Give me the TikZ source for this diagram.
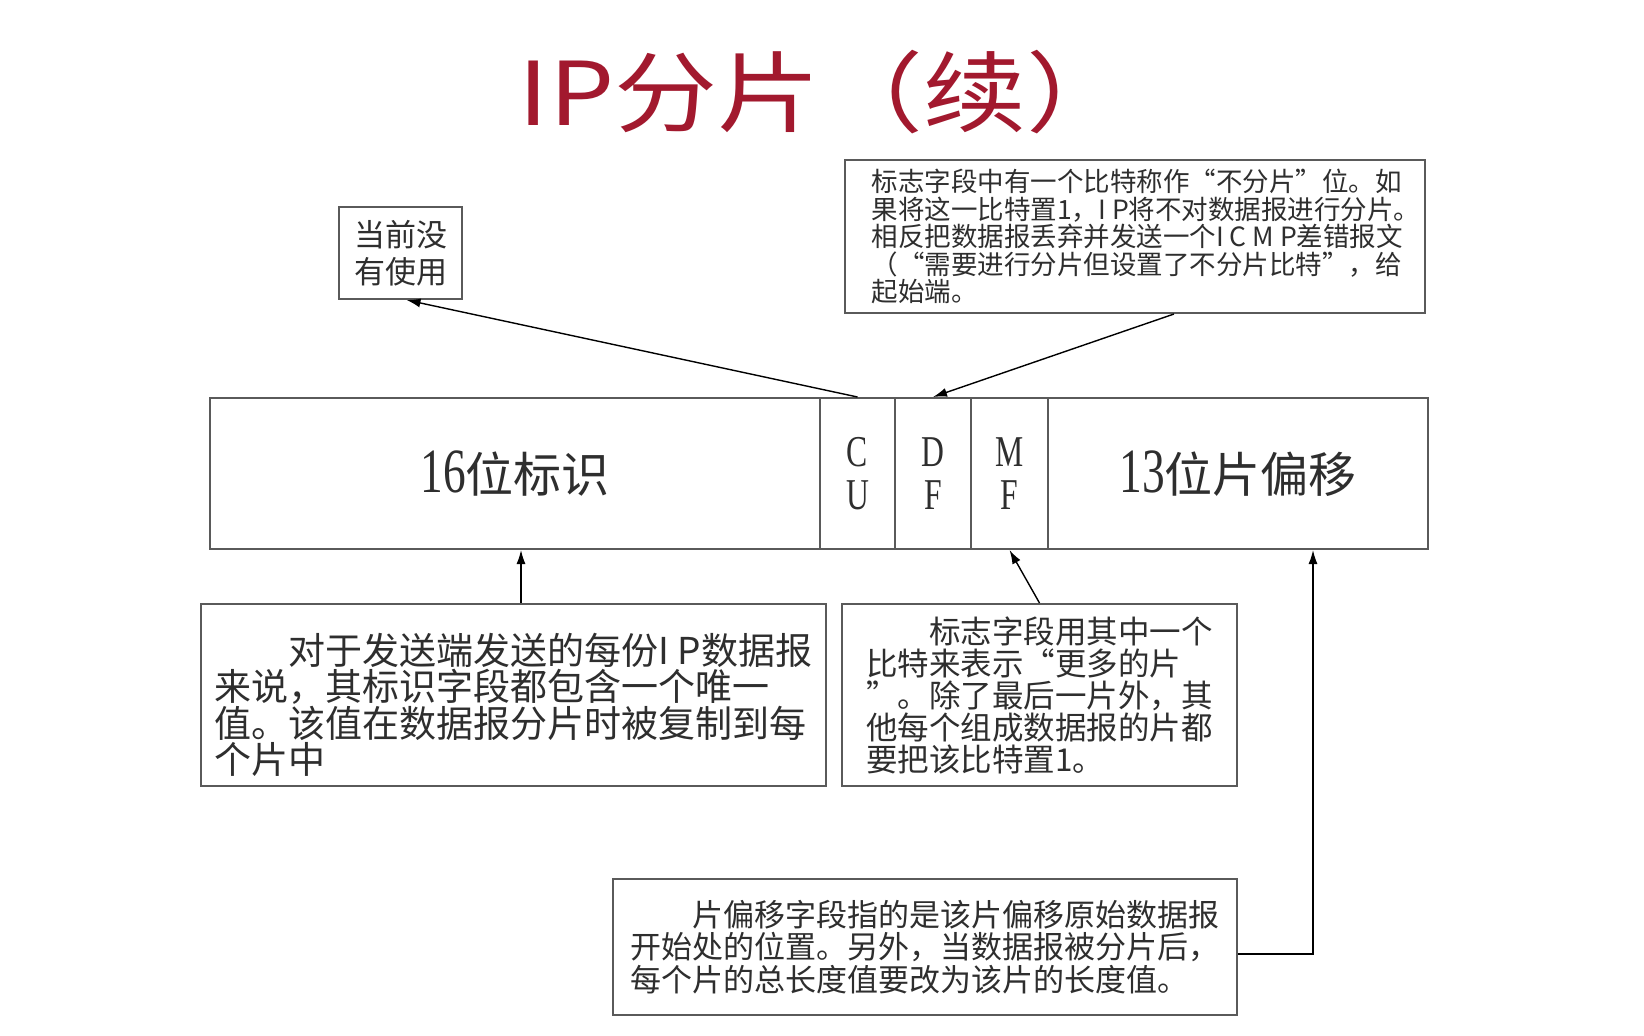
\documentclass[tikz,border=0pt]{standalone}
\usepackage{fontspec}
\usetikzlibrary{arrows.meta,calc}
\newfontfamily\cjk{Noto Sans CJK SC}
\newfontfamily\narrowserif[FakeStretch=0.72]{Liberation Serif}
\definecolor{titlered}{HTML}{A2192E}
\definecolor{frame}{HTML}{5A5A5A}
\definecolor{ink}{HTML}{2E2E2E}
\begin{document}
\begin{tikzpicture}[x=1pt,y=-1pt,
  field/.style={draw=frame,line width=2pt,rectangle,inner sep=0pt,
    minimum height=151pt,text=ink},
  notebox/.style={draw=frame,line width=2pt,rectangle,inner sep=0pt,
    align=left,text=ink},
  notetext/.style={inner sep=0pt,align=left,text=ink},
  arr/.style={draw=black,line width=1.4pt,-{Latex[length=14pt,width=9pt]}}]
\useasboundingbox[fill=white] (0,0) rectangle (1644,1036);

% title
\node[text=titlered,font=\cjk\fontsize{88}{88}\selectfont] (title) at (824,92)
  {\scalebox{1.17}[1]{IP分片（续）}};

% header row: identification, flags, fragment offset
\node[field,minimum width=610pt] (ident) at (515,473.5)
  {{\narrowserif\fontsize{63}{63}\selectfont 16}{\cjk\fontsize{48}{48}\selectfont 位标识}};
\node[field,minimum width=75pt,align=center,font=\narrowserif\fontsize{44}{43}\selectfont] (cu) at (857.5,473.5) {C\\U};
\node[field,minimum width=76pt,align=center,font=\narrowserif\fontsize{44}{43}\selectfont] (df) at (933,473.5) {D\\F};
\node[field,minimum width=77pt,align=center,font=\narrowserif\fontsize{44}{43}\selectfont] (mf) at (1009.5,473.5) {M\\F};
\node[field,minimum width=380pt] (off) at (1238,473.5)
  {{\narrowserif\fontsize{63}{63}\selectfont 13}{\cjk\fontsize{48}{48}\selectfont 位片偏移}};

% explanatory notes
\node[notebox,align=center,minimum width=123pt,minimum height=92pt,
  font=\cjk\fontsize{31}{37}\selectfont] (used) at (400.5,253) {当前没\\有使用};

\node[notebox,minimum width=580pt,minimum height=153pt] (note) at (1135,236.5) {};
\node[notetext,font=\cjk\fontsize{26.5}{27.5}\selectfont,xshift=11pt] (notetext) at (note.center)
  {标志字段中有一个比特称作“不分片”位。如\\
   果将这一比特置1，I P将不对数据报进行分片。\\
   相反把数据报丢弃并发送一个I C M P差错报文\\
   （“需要进行分片但设置了不分片比特”，给\\
   起始端。};

\node[notebox,minimum width=625pt,minimum height=182pt] (d1) at (513.5,695) {};
\node[notetext,font=\cjk\fontsize{37}{36.5}\selectfont,yshift=-10pt] (d1text) at (d1.center)
  {\hspace*{2em}对于发送端发送的每份I P数据报\\
   来说，其标识字段都包含一个唯一\\
   值。该值在数据报分片时被复制到每\\
   个片中};

\node[notebox,minimum width=395pt,minimum height=182pt,
  font=\cjk\fontsize{31.5}{32}\selectfont] (d2) at (1039.5,695)
  {\hspace*{2em}标志字段用其中一个\\
   比特来表示“更多的片\\
   ”。除了最后一片外，其\\
   他每个组成数据报的片都\\
   要把该比特置1。};

\node[notebox,minimum width=624pt,minimum height=136pt,
  font=\cjk\fontsize{31}{32.5}\selectfont] (d3) at (925,947)
  {\hspace*{2em}片偏移字段指的是该片偏移原始数据报\\
   开始处的位置。另外，当数据报被分片后，\\
   每个片的总长度值要改为该片的长度值。};

% connectors
\draw[arr] (cu.north) -- ($(used.south)+(6,0)$);
\draw[arr] ($(note.south)+(39,0)$) -- (df.north);
\draw[arr] ($(d1.north)+(7.5,0)$) coordinate (t1) -- (t1 |- ident.south);
\draw[arr] (d2.north) -- (mf.south);
\draw[arr] ($(d3.east)+(0,7)$) -| ($(off.south)+(75,0)$);
\end{tikzpicture}
\end{document}
